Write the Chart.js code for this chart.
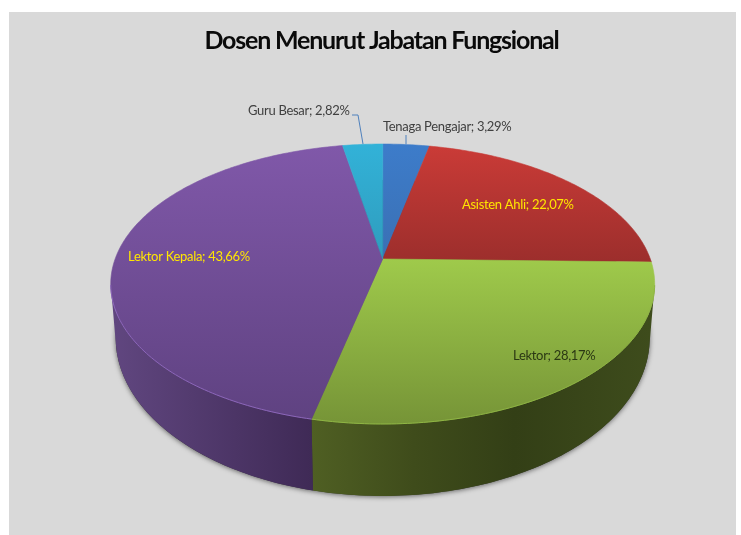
<!DOCTYPE html>
<html>
<head>
<meta charset="utf-8">
<style>html,body{margin:0;padding:0;background:#fff}canvas{display:block}</style>
<script src="https://cdn.jsdelivr.net/npm/chart.js@4"></script>
</head>
<body>
<canvas id="c" width="741" height="535"></canvas>
<script>
const categories = ["Tenaga Pengajar", "Asisten Ahli", "Lektor", "Lektor Kepala", "Guru Besar"];
const percentages = [3.29, 22.07, 28.17, 43.66, 2.82];
const chartTitle = "Dosen Menurut Jabatan Fungsional";

const topLight = ["#3d7cca", "#ca3b37", "#9fca4b", "#8058a9", "#32b2d8"];
const topDark  = ["#3a70b4", "#9c2e2c", "#769437", "#5f4281", "#2f9cbd"];
const sideFrom = ["#2a5080", "#7a2522", "#3c4a1a", "#60467f", "#22708a"];
const sideTo   = ["#2a5080", "#7a2522", "#3c4a1a", "#3f2a56", "#22708a"];
const rimColor = ["#5b9ae0", "#e05a55", "#8fb544", "#8c66ba", "#5ccde8"];
const labelColor = ["#404040", "#ffe600", "#2b3814", "#ffe600", "#404040"];
const labelAt = [[383,127],[462,205],[513,356],[128,257],[248,111]];
const leaders = [[[406,135],[406,144]], null, null, null, [[352,115],[358,115],[363,144]]];

// perspective projection of the pie's circle
const G = {cx:382.7, cy:259, A:267.6, B:135.5, k:0.1786, bx:382.7, by:338, brx:267, bry:158};
const proj = a => {
  const u = Math.cos(a), v = Math.sin(a), w = 1 - G.k * v;
  return [G.cx + G.A * u / w, G.cy + G.B * v / w];
};
const lower = p => {
  const dx = (p[0] - G.cx) * G.brx / 272.5;
  const t = Math.max(0, 1 - (dx / G.brx) ** 2);
  return [G.bx + dx, G.by + G.bry * Math.sqrt(t)];
};
const frontY = 284;
const arcPts = (a0, a1) => {
  const n = Math.max(2, Math.ceil((a1 - a0) * 60)), r = [];
  for (let i = 0; i <= n; i++) r.push(proj(a0 + (a1 - a0) * i / n));
  return r;
};

const pie3d = {
  id: "pie3d",
  beforeDraw(chart) {
    const c = chart.ctx;
    c.save();
    c.fillStyle = "#fff"; c.fillRect(0, 0, 741, 535);
    c.fillStyle = "#d9d9d9"; c.fillRect(9, 12, 727, 523);
    c.restore();
    c.letterSpacing = "-1.2px";
  },
  beforeDatasetsDraw(chart) {
    const c = chart.ctx, arcs = chart.getDatasetMeta(0).data;
    c.letterSpacing = "0px";
    c.save();
    // ground shadow
    c.save();
    c.shadowColor = "rgba(0,0,0,0.55)"; c.shadowBlur = 5; c.shadowOffsetY = 1;
    c.fillStyle = "#333";
    c.beginPath(); c.ellipse(G.bx, G.by, G.brx, G.bry, 0, 0, Math.PI * 2); c.fill();
    c.restore();
    // sides
    arcs.forEach((el, i) => {
      const pts = arcPts(el.startAngle, el.endAngle).filter(p => p[1] >= frontY);
      if (pts.length < 2) return;
      const low = pts.map(lower);
      let g;
      if (i === 2) {
        g = c.createLinearGradient(312, 0, 650, 0);
        g.addColorStop(0, "#4f5f23"); g.addColorStop(0.3, "#3f4c1b");
        g.addColorStop(0.6, "#333f16"); g.addColorStop(1, "#3e4c1c");
      } else {
        g = c.createLinearGradient(115, 0, 312, 0);
        g.addColorStop(0, sideFrom[i]); g.addColorStop(1, sideTo[i]);
      }
      c.fillStyle = g;
      c.beginPath();
      pts.forEach((p, j) => j ? c.lineTo(p[0], p[1]) : c.moveTo(p[0], p[1]));
      low.reverse().forEach(p => c.lineTo(p[0], p[1]));
      c.closePath(); c.fill();
    });
    // top faces
    arcs.forEach((el, i) => {
      const pts = arcPts(el.startAngle, el.endAngle);
      const ys = pts.map(p => p[1]).concat(G.cy);
      const g = c.createLinearGradient(0, Math.min(...ys), 0, Math.max(...ys));
      g.addColorStop(0, topLight[i]); g.addColorStop(1, topDark[i]);
      c.fillStyle = g; c.strokeStyle = g; c.lineWidth = 0.6;
      c.beginPath(); c.moveTo(G.cx, G.cy);
      pts.forEach(p => c.lineTo(p[0], p[1]));
      c.closePath(); c.fill(); c.stroke();
      // rim highlight on the front edge only
      const front = pts.filter(p => p[1] >= frontY);
      if (front.length > 1) {
        c.strokeStyle = rimColor[i]; c.lineWidth = 1;
        c.beginPath();
        front.forEach((p, j) => j ? c.lineTo(p[0], p[1]) : c.moveTo(p[0], p[1]));
        c.stroke();
      }
    });
    c.restore();
    return false;
  },
  afterDraw(chart) {
    const c = chart.ctx;
    c.save();
    c.strokeStyle = "#4f81bd"; c.lineWidth = 1;
    leaders.forEach(l => {
      if (!l) return;
      c.beginPath();
      l.forEach((p, j) => j ? c.lineTo(p[0], p[1]) : c.moveTo(p[0], p[1]));
      c.stroke();
    });
    c.font = "13px Lato";
    c.letterSpacing = "-0.3px";
    c.textBaseline = "middle"; c.textAlign = "left";
    categories.forEach((n, i) => {
      c.fillStyle = labelColor[i];
      c.fillText(n + "; " + percentages[i].toFixed(2).replace(".", ",") + "%", labelAt[i][0], labelAt[i][1]);
    });
    c.restore();
  }
};

new Chart(document.getElementById("c"), {
  type: "pie",
  data: { labels: categories, datasets: [{ data: percentages, backgroundColor: topLight, borderWidth: 0 }] },
  options: {
    responsive: false,
    animation: false,
    devicePixelRatio: 1,
    layout: { padding: { top: 26, left: 22, right: 0 } },
    plugins: {
      legend: { display: false },
      tooltip: { enabled: false },
      title: {
        display: true, text: chartTitle, color: "#0a0a0a",
        font: { family: "Lato", size: 25, weight: "bold" },
        padding: 0
      }
    }
  },
  plugins: [pie3d]
});
</script>
</body>
</html>
